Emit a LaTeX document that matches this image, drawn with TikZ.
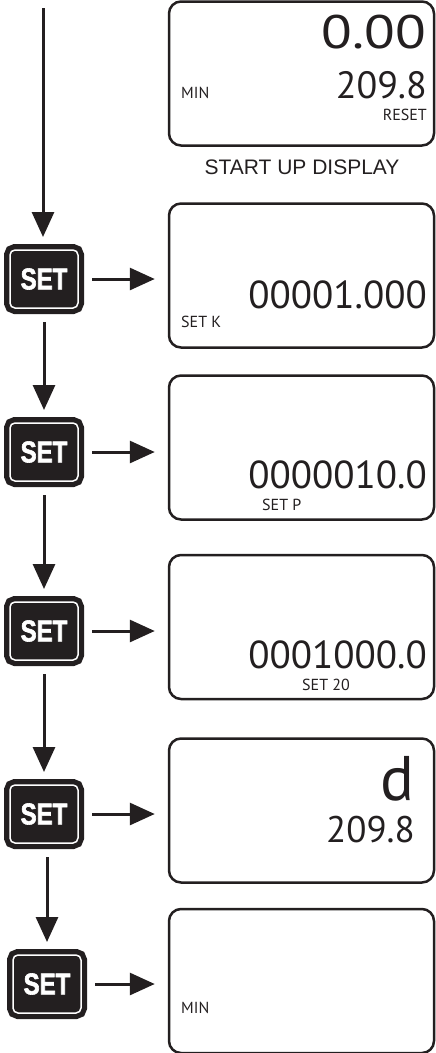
\documentclass[tikz,border=0pt]{standalone}
\usepackage{fontspec}
\setmainfont{PT Sans}
\newfontfamily\titulofont{Liberation Sans}
\newfontfamily\teclafont[FakeStretch=0.8, FakeBold=2]{Liberation Sans Bold}
\usetikzlibrary{arrows.meta}
\definecolor{tinta}{RGB}{35,31,32}

\begin{document}
\begin{tikzpicture}[
            x=1pt, y=-1pt,
            visor/.style={shape=rectangle, draw=tinta, line width=2.5pt, rounded corners=12pt, minimum width=265pt, minimum height=144pt},
            botao/.style={shape=rectangle, fill=tinta, draw=tinta, double=white, double distance=1.5pt, line width=5.25pt, rounded corners=5pt, minimum width=68pt, minimum height=58pt, inner sep=0pt, outer sep=6pt, text=white, font=\teclafont\fontsize{30}{30}\selectfont},
            seta/.style={draw=tinta, line width=3pt, shorten <=8pt, shorten >=7pt, -{Triangle[length=25pt, width=22pt]}},
            numero/.style={inner sep=0pt, text=tinta, font=\fontsize{#1}{#1}\selectfont},
            legenda/.style={inner sep=0pt, text=tinta, font=\fontsize{16}{16}\selectfont},
            titulo/.style={inner sep=0pt, text=tinta, font=\titulofont\fontsize{21}{21}\selectfont},
        ]
        \useasboundingbox (0, 0) rectangle (436, 1053);

        \node[visor] (v1) at (301.5, 73.5) {};
        \node[visor] (v2) at (301.5, 275.5) {};
        \node[visor] (v3) at (301.5, 447.5) {};
        \node[visor] (v4) at (301.5, 627) {};
        \node[visor] (v5) at (301.5, 810.5) {};
        \node[visor] (v6) at (301.5, 981) {};

        \node[botao] (b1) at (44, 279) {SET};
        \node[botao] (b2) at (44, 452) {SET};
        \node[botao] (b3) at (44, 631) {SET};
        \node[botao] (b4) at (44, 814) {SET};
        \node[botao] (b5) at (47, 984) {SET};

        \node[numero=47, anchor=base east] (n1) at (426, 48) {\scalebox{1.2}[1]{0.00}};
        \node[numero=38, anchor=base east] (n2) at (427, 98) {209.8};
        \node[legenda, anchor=base west] (l1) at (181, 98) {MIN};
        \node[legenda, anchor=base east] (l2) at (427, 120) {RESET};
        \node[titulo, anchor=base] (t1) at (302, 174) {START UP DISPLAY};
        \node[numero=39, anchor=base east] (n3) at (427, 308) {00001.000};
        \node[legenda, anchor=base west] (l3) at (181, 327) {SET K};
        \node[numero=39, anchor=base east] (n4) at (427, 488) {0000010.0};
        \node[legenda, anchor=base west] (l4) at (262, 510) {SET P};
        \node[numero=39, anchor=base east] (n5) at (427, 668) {0001000.0};
        \node[legenda, anchor=base west] (l5) at (302, 690) {SET 20};
        \node[numero=63, anchor=base east] (n6) at (415, 800) {d};
        \node[numero=37, anchor=base east] (n7) at (415, 842) {209.8};
        \node[legenda, anchor=base west] (l6) at (181, 1013) {MIN};

        \coordinate (topo) at (43, 8);

        \draw[seta, shorten <=0pt] (topo) -- (topo |- b1.north);
        \draw[seta] (b1.south) -- (b2.north);
        \draw[seta] (b2.south) -- (b3.north);
        \draw[seta] (b3.south) -- (b4.north);
        \draw[seta] (b4.south -| b5.north) -- (b5.north);

        \draw[seta, shorten >=13pt] (b1.east) -- (b1.east -| v2.west);
        \draw[seta, shorten >=13pt] (b2.east) -- (b2.east -| v3.west);
        \draw[seta, shorten >=13pt] (b3.east) -- (b3.east -| v4.west);
        \draw[seta, shorten >=13pt] (b4.east) -- (b4.east -| v5.west);
        \draw[seta, shorten >=13pt] (b5.east) -- (b5.east -| v6.west);

    \end{tikzpicture}
\end{document}
